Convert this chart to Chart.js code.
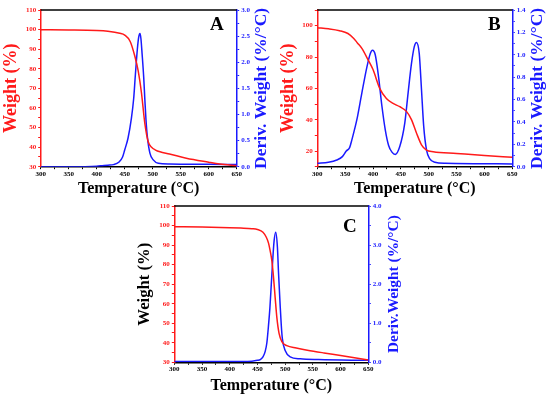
<!DOCTYPE html>
<html>
<head>
<meta charset="utf-8">
<script src="https://cdn.jsdelivr.net/npm/chart.js@4.4.1/dist/chart.umd.min.js"></script>
<style>
  body { margin: 0; background: #fff; width: 550px; height: 398px; position: relative; overflow: hidden; }
  canvas { position: absolute; }
  .tag { position: absolute; font: bold 19px "Liberation Serif", serif; line-height: 1; color: #000; }
</style>
</head>
<body>
<canvas id="chartA" width="275" height="200" style="left:0;top:0"></canvas>
<canvas id="chartB" width="275" height="200" style="left:275px;top:0"></canvas>
<canvas id="chartC" width="270" height="200" style="left:134px;top:196px"></canvas>
<div class="tag" style="left:210px;top:14px">A</div>
<div class="tag" style="left:488px;top:14px">B</div>
<div class="tag" style="left:343px;top:216px">C</div>
<script>
// panel A
const tgaTempA = [300, 350, 400, 420, 441, 450, 460, 468, 474, 480, 486, 492, 498, 505, 513, 530, 560, 600, 620, 650];
const tgaWeightA = [99.9, 99.8, 99.5, 99.1, 98.1, 97.2, 93.8, 86.5, 79, 67.5, 52, 42.7, 39.9, 38.5, 37.6, 36.5, 34.3, 32.3, 31.4, 30.5];
const dtgTempA = [300, 350, 400, 410, 420, 430, 440, 446, 450, 456, 462, 466, 469, 472.5, 475, 477.3, 479, 481, 484, 486, 488, 490.5, 495, 501, 510, 530, 600, 650];
const dtgA = [0.0, 0.0, 0.01, 0.02, 0.03, 0.04, 0.09, 0.18, 0.32, 0.55, 0.93, 1.3, 1.75, 2.24, 2.48, 2.55, 2.45, 2.17, 1.7, 1.28, 0.9, 0.57, 0.26, 0.13, 0.065, 0.05, 0.045, 0.04];

// panel B
const tgaTempB = [300, 320, 340, 355, 365, 372, 380, 390, 400, 412, 424, 436, 448, 460, 469, 478, 487, 496, 508, 550, 600, 650];
const tgaWeightB = [98.7, 98, 96.8, 95, 92, 89, 85.5, 79, 72, 60, 53.5, 50.4, 48.3, 45.3, 40, 31.5, 24, 20.6, 19.6, 18.5, 17.2, 16];
const dtgTempB = [300, 320, 335, 345, 352, 358, 362, 371, 380, 389, 395, 399, 404, 410, 416, 422, 428, 434, 440, 448, 457, 463, 469, 474, 478, 483, 487, 491, 496, 502, 511, 530, 650];
const dtgB = [0.03, 0.04, 0.06, 0.09, 0.14, 0.17, 0.24, 0.42, 0.66, 0.89, 1.01, 1.04, 1.0, 0.8, 0.54, 0.33, 0.19, 0.13, 0.11, 0.18, 0.39, 0.66, 0.92, 1.07, 1.11, 1.01, 0.69, 0.36, 0.15, 0.07, 0.04, 0.03, 0.025];

// panel C
const tgaTempC = [300, 350, 400, 420, 440, 450, 460, 466, 470, 473, 476, 479, 482, 485, 489, 494, 503, 520, 540, 570, 600, 650];
const tgaWeightC = [99.4, 99.2, 98.9, 98.7, 98.4, 98.0, 96.6, 94, 91, 87, 82, 73.5, 63, 53, 44.8, 40.6, 38.5, 37.3, 36.2, 34.8, 33.5, 31.2];
const dtgTempC = [300, 400, 440, 450, 455, 460, 464, 467, 470, 472.5, 475, 477.5, 480, 483, 486, 488, 491, 493, 495, 500, 509, 527, 560, 650];
const dtgC = [0.02, 0.02, 0.03, 0.05, 0.07, 0.14, 0.28, 0.5, 0.95, 1.4, 2.0, 2.6, 3.1, 3.33, 2.95, 2.3, 1.45, 0.95, 0.6, 0.3, 0.14, 0.09, 0.07, 0.05];

const SERIF = '"Liberation Serif", "Times New Roman", serif';
const RED = '#ff1a1a';
const BLUE = '#1a1aff';

function pts(xs, ys) {
  return xs.map((x, i) => ({ x: x, y: ys[i] }));
}

// label only the major ticks, the rest stay as small marks
function every(major, fmt) {
  return v => Math.abs(v / major - Math.round(v / major)) < 1e-6 ? fmt(v) : '';
}

const frameTop = {
  id: 'frameTop',
  afterDraw(chart) {
    const { ctx, chartArea: a } = chart;
    ctx.save();
    ctx.strokeStyle = '#000';
    ctx.lineWidth = 1.5;
    ctx.beginPath();
    ctx.moveTo(a.left, a.top);
    ctx.lineTo(a.right, a.top);
    ctx.stroke();
    ctx.restore();
  }
};

// chart.js turns right-hand titles the other way, so this one is drawn by hand (reads bottom to top)
const rightTitle = {
  id: 'rightTitle',
  afterDraw(chart, args, opts) {
    const { ctx, chartArea: a, width } = chart;
    ctx.save();
    ctx.translate(width - opts.offset, (a.top + a.bottom) / 2);
    ctx.rotate(-Math.PI / 2);
    ctx.font = 'bold ' + opts.size + 'px ' + SERIF;
    ctx.fillStyle = BLUE;
    ctx.textAlign = 'center';
    ctx.textBaseline = 'middle';
    ctx.fillText(opts.text, 0, 0);
    ctx.restore();
  }
};

function yAxis(side, color, o) {
  return {
    type: 'linear',
    position: side,
    min: o.min,
    max: o.max,
    afterFit: s => { s.width = o.width; },
    border: { color: color, width: 1.5 },
    grid: { drawOnChartArea: false, tickLength: 2.5, tickColor: color, tickWidth: 1 },
    ticks: {
      stepSize: o.step,
      autoSkip: false,
      padding: 2,
      color: color,
      font: { family: SERIF, size: 7, weight: 'bold' },
      callback: every(o.major, o.fmt)
    },
    title: {
      display: side === 'left',
      text: o.title,
      color: o.titleColor || color,
      font: { family: SERIF, size: o.titleSize, weight: 'bold' },
      padding: { top: o.titlePad, bottom: 0 }
    }
  };
}

function makePanel(id, p) {
  new Chart(document.getElementById(id), {
    type: 'line',
    data: {
      datasets: [
        {
          data: pts(p.tgaT, p.tgaW),
          yAxisID: 'yL',
          borderColor: RED,
          borderWidth: 1.5,
          pointRadius: 0,
          cubicInterpolationMode: 'monotone'
        },
        {
          data: pts(p.dtgT, p.dtg),
          yAxisID: 'yR',
          borderColor: BLUE,
          borderWidth: 1.5,
          pointRadius: 0,
          cubicInterpolationMode: 'monotone'
        }
      ]
    },
    options: {
      responsive: false,
      animation: false,
      layout: { padding: { top: 10 } },
      plugins: {
        legend: { display: false },
        tooltip: { enabled: false },
        rightTitle: { text: p.right.title, size: p.right.titleSize, offset: p.right.titleOffset }
      },
      scales: {
        x: {
          type: 'linear',
          min: 300,
          max: 650,
          afterFit: s => { s.height = p.bottom; },
          border: { color: '#000', width: 1.5 },
          grid: { drawOnChartArea: false, tickLength: 2.5, tickColor: '#000' },
          ticks: {
            stepSize: 25,
            autoSkip: false,
            maxRotation: 0,
            padding: 0.5,
            color: '#000',
            font: { family: SERIF, size: 7, weight: 'bold' },
            callback: every(50, v => String(v))
          },
          title: {
            display: true,
            text: 'Temperature (\u00b0C)',
            color: '#000',
            font: { family: SERIF, size: 16, weight: 'bold' },
            padding: { top: 0, bottom: p.xTitlePad }
          }
        },
        yL: yAxis('left', RED, p.left),
        yR: yAxis('right', BLUE, p.right)
      }
    },
    plugins: [frameTop, rightTitle]
  });
}

makePanel('chartA', {
  tgaT: tgaTempA, tgaW: tgaWeightA, dtgT: dtgTempA, dtg: dtgA,
  bottom: 33.3, xTitlePad: 1.4,
  left: { min: 30, max: 110, step: 5, major: 10, fmt: v => String(v), width: 40.7,
          title: 'Weight (%)', titleSize: 18, titlePad: 0.7 },
  right: { min: 0, max: 3, step: 0.25, major: 0.5, fmt: v => v.toFixed(1), width: 38.3,
           title: 'Deriv. Weight (%/\u00b0C)', titleSize: 17.5, titleOffset: 13.5 }
});

makePanel('chartB', {
  tgaT: tgaTempB, tgaW: tgaWeightB, dtgT: dtgTempB, dtg: dtgB,
  bottom: 33.3, xTitlePad: 1.4,
  left: { min: 10, max: 110, step: 10, major: 20, fmt: v => (v > 10 && v < 110 ? String(v) : ''), width: 42.3,
          title: 'Weight (%)', titleSize: 18, titlePad: 2.7 },
  right: { min: 0, max: 1.4, step: 0.1, major: 0.2, fmt: v => v.toFixed(1), width: 37.7,
           title: 'Deriv. Weight (%/\u00b0C)', titleSize: 17.5, titleOffset: 12.5 }
});

makePanel('chartC', {
  tgaT: tgaTempC, tgaW: tgaWeightC, dtgT: dtgTempC, dtg: dtgC,
  bottom: 33.7, xTitlePad: 0.9,
  left: { min: 30, max: 110, step: 5, major: 10, fmt: v => String(v), width: 40.3,
          title: 'Weight (%)', titleColor: '#000', titleSize: 16.7, titlePad: 1 },
  right: { min: 0, max: 4, step: 0.5, major: 1, fmt: v => v.toFixed(1), width: 35.7,
           title: 'Deriv.Weight (%/\u00b0C)', titleSize: 15.4, titleOffset: 9.7 }
});
</script>
</body>
</html>
